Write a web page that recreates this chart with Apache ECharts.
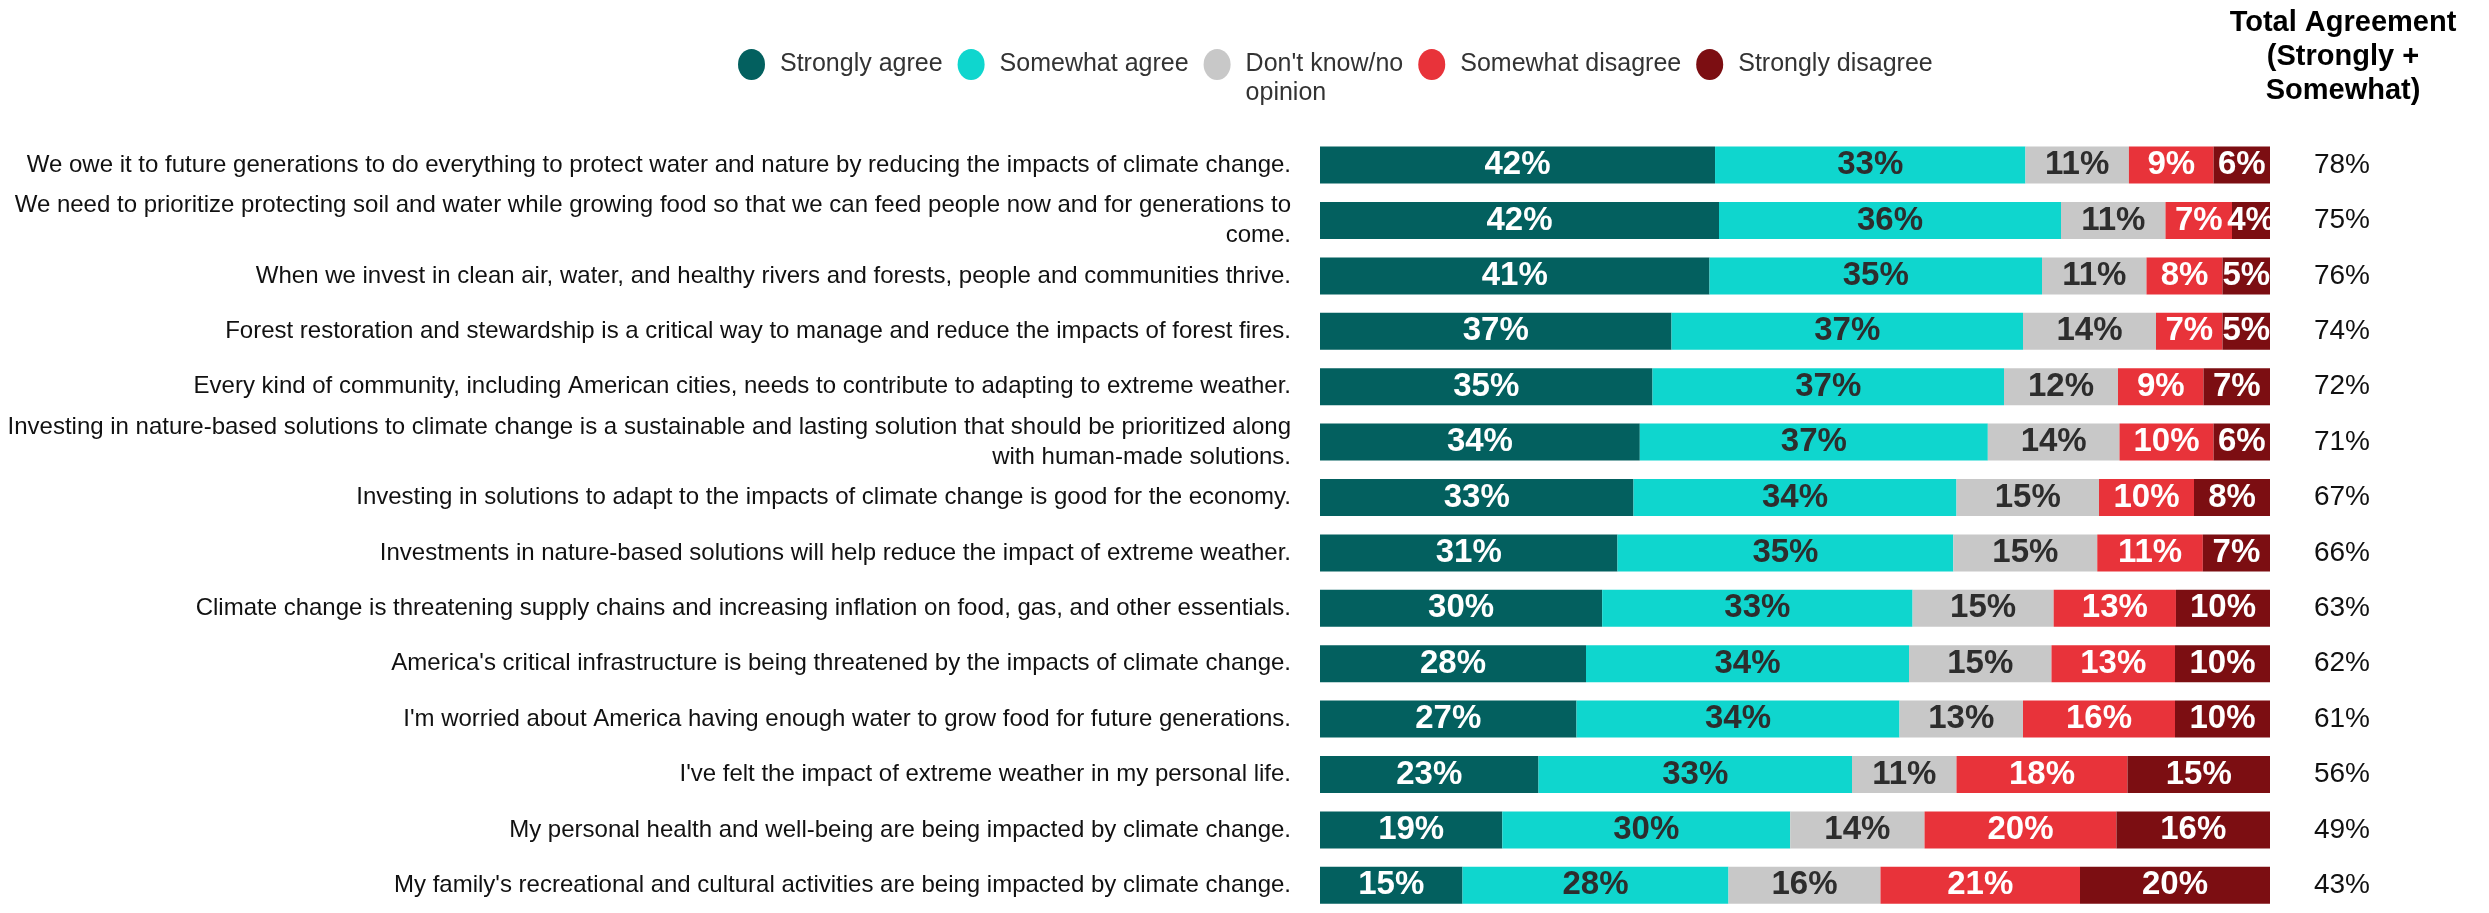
<!DOCTYPE html>
<html>
<head>
<meta charset="utf-8">
<script src="https://cdn.jsdelivr.net/npm/echarts@6/dist/echarts.min.js"></script>
<style>
html,body{margin:0;padding:0;background:#fff;}
#chart{width:2489px;height:913px;}
</style>
</head>
<body>
<div id="chart"></div>
<script>
var categories = [
  "We owe it to future generations to do everything to protect water and nature by reducing the impacts of climate change.",
  "We need to prioritize protecting soil and water while growing food so that we can feed people now and for generations to\ncome.",
  "When we invest in clean air, water, and healthy rivers and forests, people and communities thrive.",
  "Forest restoration and stewardship is a critical way to manage and reduce the impacts of forest fires.",
  "Every kind of community, including American cities, needs to contribute to adapting to extreme weather.",
  "Investing in nature-based solutions to climate change is a sustainable and lasting solution that should be prioritized along\nwith human-made solutions.",
  "Investing in solutions to adapt to the impacts of climate change is good for the economy.",
  "Investments in nature-based solutions will help reduce the impact of extreme weather.",
  "Climate change is threatening supply chains and increasing inflation on food, gas, and other essentials.",
  "America's critical infrastructure is being threatened by the impacts of climate change.",
  "I'm worried about America having enough water to grow food for future generations.",
  "I've felt the impact of extreme weather in my personal life.",
  "My personal health and well-being are being impacted by climate change.",
  "My family's recreational and cultural activities are being impacted by climate change."
];
var seriesNames = ["Strongly agree", "Somewhat agree", "Don't know/no opinion", "Somewhat disagree", "Strongly disagree"];
var stronglyAgree    = [42, 42, 41, 37, 35, 34, 33, 31, 30, 28, 27, 23, 19, 15];
var somewhatAgree    = [33, 36, 35, 37, 37, 37, 34, 35, 33, 34, 34, 33, 30, 28];
var dontKnow         = [11, 11, 11, 14, 12, 14, 15, 15, 15, 15, 13, 11, 14, 16];
var somewhatDisagree = [9, 7, 8, 7, 9, 10, 10, 11, 13, 13, 16, 18, 20, 21];
var stronglyDisagree = [6, 4, 5, 5, 7, 6, 8, 7, 10, 10, 10, 15, 16, 20];
var totalAgreement   = ["78%", "75%", "76%", "74%", "72%", "71%", "67%", "66%", "63%", "62%", "61%", "56%", "49%", "43%"];
var headerText = "Total Agreement\n(Strongly +\nSomewhat)";

var colors = ["#03605f", "#0fd6ce", "#c8c8c8", "#e8333a", "#7c0e12"];
var labelColors = ["#ffffff", "#2d2d2d", "#2d2d2d", "#ffffff", "#ffffff"];
var allSeries = [stronglyAgree, somewhatAgree, dontKnow, somewhatDisagree, stronglyDisagree];

var rowSums = categories.map(function (c, i) {
  return allSeries.reduce(function (s, arr) { return s + arr[i]; }, 0);
});

var FONT = "'Liberation Sans', Arial, Helvetica, sans-serif";

var series = allSeries.map(function (arr, k) {
  return {
    name: seriesNames[k],
    type: 'bar',
    stack: 'total',
    barWidth: 37,
    itemStyle: { color: colors[k] },
    label: {
      show: true,
      position: 'inside',
      color: labelColors[k],
      fontFamily: FONT,
      fontWeight: 'bold',
      fontSize: 33,
      formatter: function (p) { return p.data.raw + '%'; }
    },
    emphasis: { disabled: true },
    data: arr.map(function (v, i) { return { value: v / rowSums[i] * 100, raw: v }; })
  };
});

var chart = echarts.init(document.getElementById('chart'), null, { renderer: 'canvas' });
chart.setOption({
  animation: false,
  backgroundColor: '#ffffff',
  legend: {
    left: 733,
    top: 16,
    itemGap: 15,
    itemWidth: 27,
    itemHeight: 31,
    icon: 'path://M50,0A50,50,0,1,1,50,100A50,50,0,1,1,50,0Z',
    symbolKeepAspect: false,
    selectedMode: false,
    data: seriesNames,
    formatter: function (name) {
      if (name === "Don't know/no opinion") return " \nDon't know/no\nopinion";
      return name;
    },
    textStyle: {
      fontFamily: FONT,
      fontSize: 25,
      color: '#333333',
      lineHeight: 29,
      padding: [0, 0, 0, 10]
    }
  },
  graphic: [{
    type: 'text',
    x: 2343,
    y: 6,
    style: {
      text: headerText,
      align: 'center',
      verticalAlign: 'top',
      fontFamily: FONT,
      fontWeight: 'bold',
      fontSize: 29,
      lineHeight: 34,
      fill: '#000000'
    }
  }],
  grid: {
    left: 1320,
    top: 137.4,
    width: 950,
    height: 786,
    containLabel: false
  },
  xAxis: {
    type: 'value',
    min: 0,
    max: 100,
    show: false
  },
  yAxis: [{
    type: 'category',
    inverse: true,
    data: categories,
    axisLine: { show: false },
    axisTick: { show: false },
    axisLabel: {
      margin: 29,
      fontFamily: FONT,
      fontSize: 24,
      lineHeight: 30,
      color: '#111111',
      align: 'right'
    }
  }, {
    type: 'category',
    inverse: true,
    position: 'right',
    data: totalAgreement,
    axisLine: { show: false },
    axisTick: { show: false },
    axisLabel: {
      margin: 72,
      align: 'center',
      fontFamily: FONT,
      fontSize: 28,
      color: '#111111'
    }
  }],
  series: series
});
</script>
</body>
</html>
